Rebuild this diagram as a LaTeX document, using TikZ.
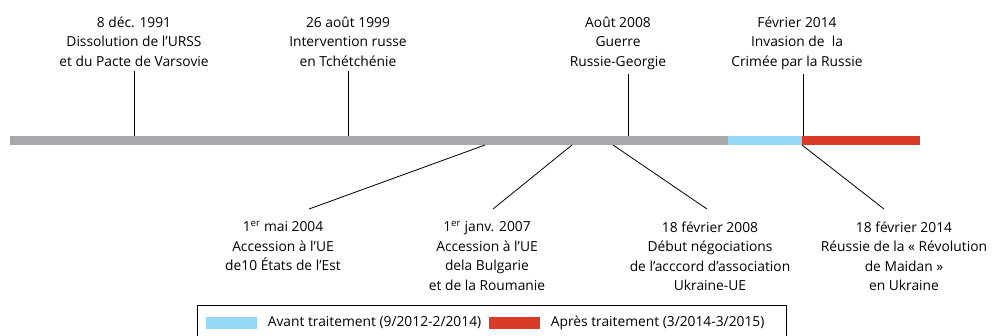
\documentclass[tikz,border=0pt]{standalone}
\usepackage{fontspec}
\setmainfont{Open Sans}
\usetikzlibrary{positioning}
\definecolor{BarGrey}{RGB}{166,168,171}
\definecolor{BeforeBlue}{RGB}{150,215,245}
\definecolor{AfterRed}{RGB}{218,58,40}
\newcommand{\barpiece}[3]{%
  \fill[#3] (#1,136) rectangle (#2,145);}

\begin{document}
\begin{tikzpicture}[x=1pt,y=-1pt,line width=0.8pt,
  event/.style={align=center,inner sep=0pt,outer ysep=5pt,
    font=\fontsize{13.8}{19.5}\selectfont},
  swatch/.style={minimum width=51pt,minimum height=12pt,inner sep=0pt},
  legtext/.style={inner sep=0pt,font=\fontsize{13.8}{16}\selectfont}]
  \useasboundingbox (0,0) rectangle (993,335);
  % timeline
  \barpiece{10}{728}{BarGrey}
  \barpiece{728}{802}{BeforeBlue}
  \barpiece{802}{920}{AfterRed}
  % events above the bar
  \coordinate (t91) at (134,136);
  \coordinate (t99) at (348,136);
  \coordinate (t08) at (628,136);
  \coordinate (t14) at (803,136);
  \node[event,anchor=north] (e91) at (134,11.5)
    {8 déc. 1991\\Dissolution de l’URSS\\et du Pacte de Varsovie};
  \node[event,anchor=north] (e99) at (348,11.5)
    {26 août 1999\\Intervention russe\\en Tchétchénie};
  \node[event,anchor=north] (e08) at (618,11.5)
    {Août 2008\\Guerre\\Russie-Georgie};
  \node[event,anchor=north] (e14) at (797,11.5)
    {Février 2014\\Invasion de~ la\\Crimée par la Russie};
  \foreach \t/\e in {t91/e91,t99/e99,t08/e08,t14/e14}
    \draw (\t) -- (\t |- \e.south);
  % events below the bar
  \coordinate (b04) at (485,145);
  \coordinate (b07) at (572,145);
  \coordinate (b08) at (613,145);
  \coordinate (b14) at (802,145);
  \node[event,anchor=north] (e04) at (283,216.5)
    {1\textsuperscript{er} mai 2004\\Accession à l’UE\\de10 États de l’Est};
  \node[event,anchor=north] (e07) at (487,216.5)
    {1\textsuperscript{er} janv. 2007\\Accession à l’UE\\dela Bulgarie\\et de la Roumanie};
  \node[event,anchor=north] (e08b) at (710,216.5)
    {18 février 2008\\Début négociations\\de l’acccord d’association\\Ukraine-UE};
  \node[event,anchor=north] (e14b) at (904,216.5)
    {18 février 2014\\Réussie de la « Révolution\\de Maidan »\\en Ukraine};
  \coordinate (a04) at (309,209);
  \coordinate (a07) at (493,209);
  \coordinate (a08) at (707,209);
  \coordinate (a14) at (884,209);
  \foreach \b/\a in {b04/a04,b07/a07,b08/a08,b14/a14}
    \draw (\b) -- (\a);
  % legend
  \node[draw,anchor=north west,minimum width=589pt,minimum height=40pt,
    inner sep=0pt] (legend) at (197,305) {};
  \node[swatch,fill=BeforeBlue] (sw1) at (231.5,323) {};
  \node[legtext,right=10pt of sw1] (lt1) {Avant traitement (9/2012-2/2014)};
  \node[swatch,fill=AfterRed,right=7pt of lt1] (sw2) {};
  \node[legtext,right=10pt of sw2] (lt2) {Après traitement (3/2014-3/2015)};
\end{tikzpicture}
\end{document}
